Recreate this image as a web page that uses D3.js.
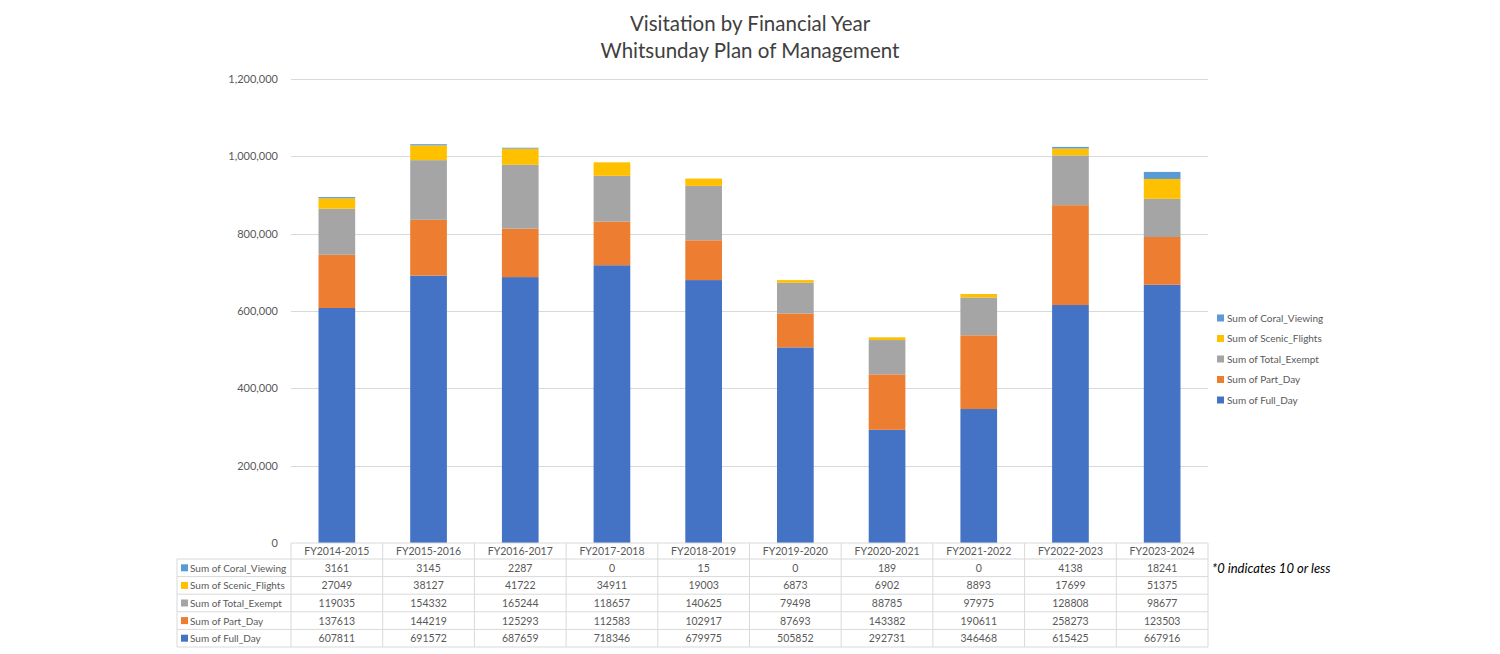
<!DOCTYPE html>
<html><head><meta charset="utf-8">
<script src="https://cdn.jsdelivr.net/npm/d3@7"></script>
<style>body{margin:0;background:#fff}svg{display:block}text{font-family:Lato,"Open Sans",sans-serif;fill:#595959}</style>
</head><body><svg id="c" width="1500" height="654"></svg>
<script>
const categories = ["FY2014-2015","FY2015-2016","FY2016-2017","FY2017-2018","FY2018-2019","FY2019-2020","FY2020-2021","FY2021-2022","FY2022-2023","FY2023-2024"];
const fullDay = [607811,691572,687659,718346,679975,505852,292731,346468,615425,667916];
const partDay = [137613,144219,125293,112583,102917,87693,143382,190611,258273,123503];
const totalExempt = [119035,154332,165244,118657,140625,79498,88785,97975,128808,98677];
const scenicFlights = [27049,38127,41722,34911,19003,6873,6902,8893,17699,51375];
const coralViewing = [3161,3145,2287,0,15,0,189,0,4138,18241];
const seriesNames = ["Sum of Full_Day","Sum of Part_Day","Sum of Total_Exempt","Sum of Scenic_Flights","Sum of Coral_Viewing"];
const seriesColors = ["#4472C4","#ED7D31","#A5A5A5","#FFC000","#5B9BD5"];
const yTicks = [0,200000,400000,600000,800000,1000000,1200000];
const titleLines = ["Visitation by Financial Year","Whitsunday Plan of Management"];
const footnote = "*0 indicates 10 or less";

const seriesVals = [fullDay,partDay,totalExempt,scenicFlights,coralViewing];
const svg = d3.select("#c");
const L=291,R=1208,T=79,B=543;
const x = d3.scaleBand().domain(categories).range([L,R]).paddingInner(0.6).paddingOuter(0.3);
const xb = d3.scaleBand().domain(categories).range([L,R]);
const y = d3.scaleLinear().domain([0,1200000]).range([B,T]);

svg.selectAll("text.title").data(titleLines).join("text")
 .attr("x",750).attr("y",(d,i)=>31+i*27).attr("text-anchor","middle")
 .style("font-size","20.5px").style("fill","#404040").text(d=>d);

// grid
svg.append("g").selectAll("line").data(yTicks.slice(1)).join("line")
 .attr("x1",L).attr("x2",R).attr("y1",d=>Math.round(y(d))+0.5).attr("y2",d=>Math.round(y(d))+0.5)
 .attr("stroke","#d9d9d9").attr("stroke-width",1);
const yAxis = svg.append("g").attr("transform",`translate(${L-10},0)`)
 .call(d3.axisLeft(y).tickValues(yTicks).tickSize(0).tickFormat(d3.format(",")));
yAxis.select(".domain").remove();
yAxis.selectAll("text").style("font-size","11px").style("fill","#595959").style("font-family","Lato,'Open Sans',sans-serif");

// stack
const rows = categories.map((c,i)=>{const o={cat:c};seriesNames.forEach((s,j)=>o[s]=seriesVals[j][i]);return o;});
const stack = d3.stack().keys(seriesNames)(rows);
svg.append("g").selectAll("g").data(stack).join("g").attr("fill",(d,i)=>seriesColors[i])
 .selectAll("rect").data(d=>d).join("rect")
 .attr("x",d=>x(d.data.cat)).attr("width",x.bandwidth())
 .attr("y",d=>y(d[1])).attr("height",d=>y(d[0])-y(d[1]));

// table
const rowH=17.6, headTop=543, headH=16;
const tb = svg.append("g");
const gridCol="#d9d9d9";
tb.selectAll("text.h").data(categories).join("text")
 .attr("x",d=>xb(d)+xb.bandwidth()/2).attr("y",headTop+12).attr("text-anchor","middle")
 .style("font-size","10.5px").text(d=>d);
const tableRows = [4,3,2,1,0];
const rowTop = i=>headTop+headH+i*rowH;
tableRows.forEach((si,ri)=>{
  const ty=rowTop(ri);
  tb.append("rect").attr("x",181).attr("y",ty+rowH/2-3.5).attr("width",7).attr("height",7).attr("fill",seriesColors[si]);
  tb.append("text").attr("x",190).attr("y",ty+rowH/2+4).style("font-size","10px").text(seriesNames[si]);
  tb.selectAll(null).data(categories).join("text")
   .attr("x",d=>xb(d)+xb.bandwidth()/2).attr("y",ty+rowH/2+4).attr("text-anchor","middle")
   .style("font-size","10.5px").text((d,i)=>seriesVals[si][i]);
});
const bottom = rowTop(5);
tb.append("line").attr("x1",L).attr("x2",R).attr("y1",headTop).attr("y2",headTop).attr("stroke",gridCol);
for(let i=0;i<=5;i++){
  tb.append("line").attr("x1",177).attr("x2",R).attr("y1",rowTop(i)).attr("y2",rowTop(i)).attr("stroke",gridCol);
}
tb.append("line").attr("x1",177).attr("x2",177).attr("y1",rowTop(0)).attr("y2",bottom).attr("stroke",gridCol);
categories.forEach(c=>{
  tb.append("line").attr("x1",xb(c)).attr("x2",xb(c)).attr("y1",headTop).attr("y2",bottom).attr("stroke",gridCol);
});
tb.append("line").attr("x1",R).attr("x2",R).attr("y1",headTop).attr("y2",bottom).attr("stroke",gridCol);

svg.append("text").attr("x",1212).attr("y",rowTop(0)+rowH/2+5).style("font-size","13px").style("font-style","italic").style("fill","#000").text(footnote);

// legend
const lg = svg.append("g");
const legOrder=[4,3,2,1,0];
legOrder.forEach((si,k)=>{
  const ly=318+k*20.5;
  lg.append("rect").attr("x",1217).attr("y",ly-3.5).attr("width",7).attr("height",7).attr("fill",seriesColors[si]);
  lg.append("text").attr("x",1227).attr("y",ly+3.5).style("font-size","10px").text(seriesNames[si]);
});
</script></body></html>
